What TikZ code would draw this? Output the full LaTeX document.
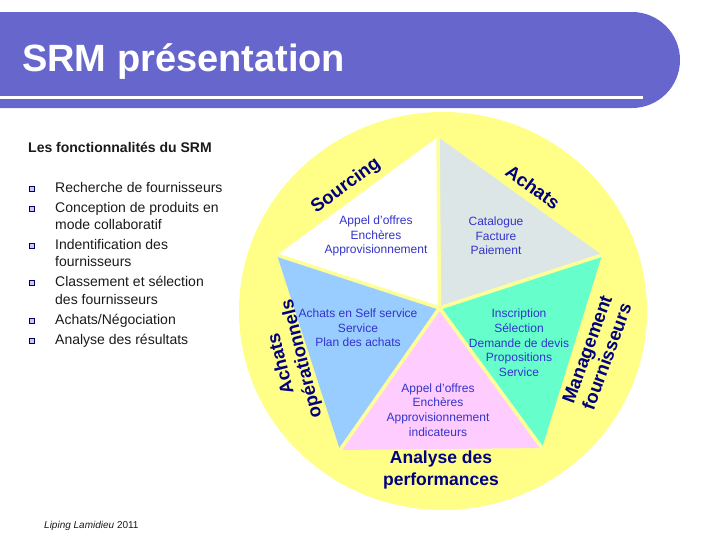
\documentclass[tikz,border=0pt]{standalone}
\usepackage{fontspec}
\setmainfont{Liberation Sans}
\definecolor{barcol}{HTML}{6666CC}
\definecolor{yel}{HTML}{FFFF88}
\definecolor{spoke}{HTML}{FFFF99}
\definecolor{grayc}{HTML}{DCE6E6}
\definecolor{bluec}{HTML}{99CCFF}
\definecolor{greenc}{HTML}{66FFCC}
\definecolor{pinkc}{HTML}{FFCCFF}
\definecolor{tritext}{HTML}{3333CC}
\definecolor{labcol}{HTML}{000080}
\definecolor{bodytext}{HTML}{1A1A1A}
\definecolor{bulcol}{HTML}{000066}
\definecolor{bulfill}{HTML}{C8C8F0}
\begin{document}
\begin{tikzpicture}[x=1pt,y=-1pt,
  tri/.style={text=tritext, align=center, inner sep=0pt, font=\fontsize{12}{14.7}\selectfont},
  lab/.style={text=labcol, align=center, inner sep=0pt, font=\bfseries\fontsize{18.5}{21}\selectfont},
  body/.style={anchor=base west, inner sep=0pt, text=bodytext, font=\fontsize{14}{17}\selectfont},
  bul/.style={draw=bulcol, fill=bulfill, line width=0.9pt, minimum size=5pt, inner sep=0pt}]
\useasboundingbox (0,0) rectangle (728,546);
% title bar
\fill[barcol] (0,12) -- (632,12) arc[start angle=-90, end angle=90, radius=48] -- (0,108) -- cycle;
\draw[white, line width=3] (0,97) -- (643,97);
\node[anchor=base west, inner sep=0pt, text=white, font=\bfseries\fontsize{38}{38}\selectfont] (title) at (22,71) {SRM présentation};
% left text
\node[body, font=\bfseries\fontsize{14}{17}\selectfont] (head) at (28,152) {Les fonctionnalités du SRM};
\node[body] (l1) at (55,192) {Recherche de fournisseurs};
\node[body] (l2) at (55,212) {Conception de produits en};
\node[body] (l3) at (55,229) {mode collaboratif};
\node[body] (l4) at (55,249) {Indentification des};
\node[body] (l5) at (55,266) {fournisseurs};
\node[body] (l6) at (55,286) {Classement et sélection};
\node[body] (l7) at (55,304) {des fournisseurs};
\node[body] (l8) at (55,324) {Achats/Négociation};
\node[body] (l9) at (55,344) {Analyse des résultats};
\foreach \yy [count=\i] in {192,212,249,286,324,344}
  \node[bul] (b\i) at (31.5,\yy-3.5) {};
% circle
\fill[yel] (443,311) ellipse [x radius=204, y radius=199];
% pentagon
\coordinate (C) at (439.5,308);
\coordinate (P1) at (438,137);
\coordinate (P2) at (602,255);
\coordinate (P3) at (542,448);
\coordinate (P4) at (340,450);
\coordinate (P5) at (277,255);
\fill[white] (C) -- (P5) -- (P1) -- cycle;
\fill[grayc] (C) -- (P1) -- (P2) -- cycle;
\fill[greenc] (C) -- (P2) -- (P3) -- cycle;
\fill[pinkc] (C) -- (P3) -- (P4) -- cycle;
\fill[bluec] (C) -- (P4) -- (P5) -- cycle;
\foreach \p in {P1,P2,P3,P4,P5}
  \draw[spoke, line width=3.5] (C) -- (\p);
% triangle texts
\node[tri] (t1) at (376,236) {Appel d'offres\\Enchères\\Approvisionnement};
\node[tri] (t2) at (496,236) {Catalogue\\Facture\\Paiement};
\node[tri] (t3) at (358,328) {Achats en Self service\\Service\\Plan des achats};
\node[tri] (t4) at (519,343) {Inscription\\Sélection\\Demande de devis\\Propositions\\Service};
\node[tri] (t5) at (438,410) {Appel d'offres\\Enchères\\Approvisionnement\\indicateurs};
% labels
\node[lab, rotate=36] (s1) at (346,186) {Sourcing};
\node[lab, rotate=-36] (s2) at (533,187) {Achats};
\node[lab, rotate=104] (s3) at (292,361) {Achats\\opérationnels};
\node[lab, rotate=70] (s4) at (597,353) {Management\\fournisseurs};
\node[lab, font=\bfseries\fontsize{17.5}{22}\selectfont] (s5) at (441,470) {Analyse des\\performances};
% footer
\node[anchor=base west, inner sep=0pt, text=bodytext, font=\fontsize{10}{12}\selectfont] (foot) at (44,528) {\textit{Liping Lamidieu} 2011};
\end{tikzpicture}
\end{document}
